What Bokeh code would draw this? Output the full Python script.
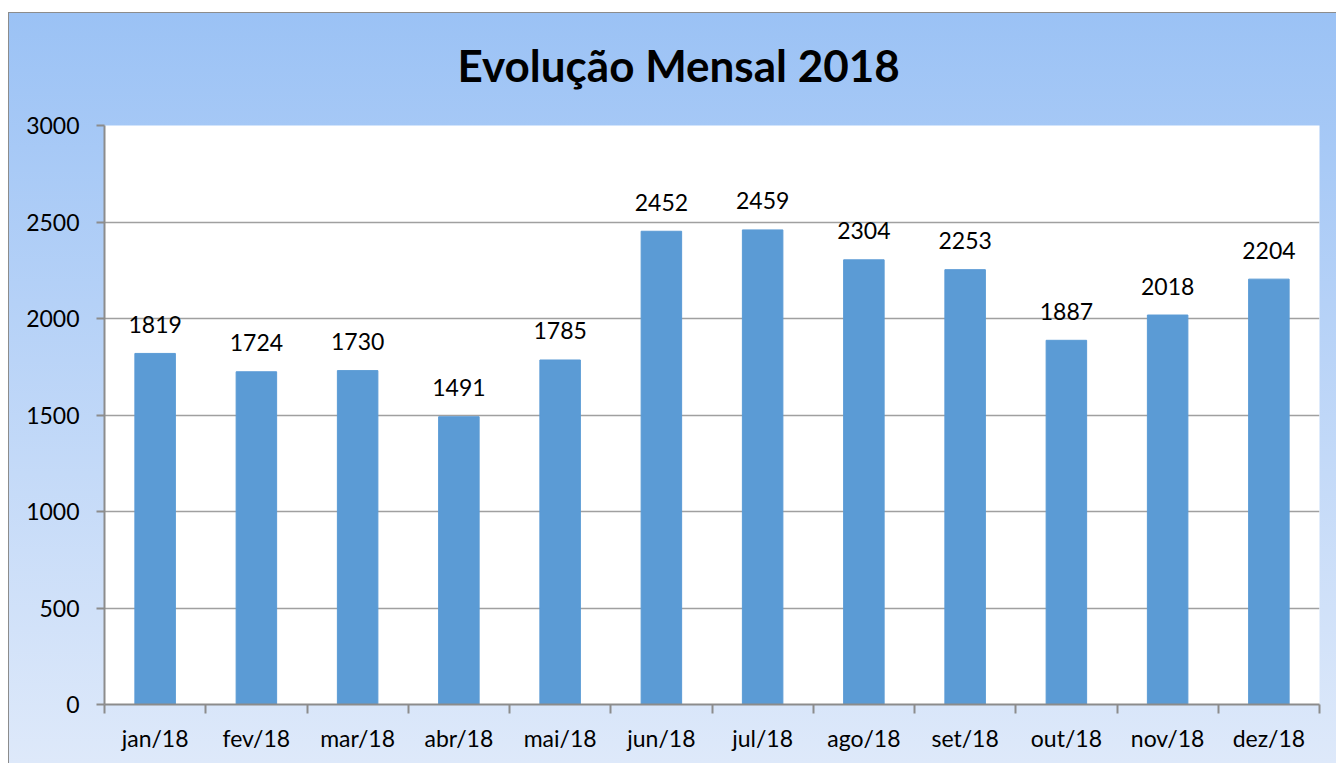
from bokeh.plotting import figure
from bokeh.models import FixedTicker, ColumnDataSource
from bokeh.embed import file_html
from bokeh.resources import INLINE
from bokeh.core.properties import value

months = ["jan/18", "fev/18", "mar/18", "abr/18", "mai/18", "jun/18",
          "jul/18", "ago/18", "set/18", "out/18", "nov/18", "dez/18"]
values = [1819, 1724, 1730, 1491, 1785, 2452, 2459, 2304, 2253, 1887, 2018, 2204]
y_ticks = [0, 500, 1000, 1500, 2000, 2500, 3000]

FONT = "Lato"
n = len(months)
centers = [i + 0.5 for i in range(n)]
src = ColumnDataSource(dict(x=centers, top=values, label=[str(v) for v in values]))

bg = ("linear-gradient(to right, #ffffff 8px, transparent 8px), "
      "linear-gradient(to bottom, #ffffff 12px, transparent 12px), "
      "linear-gradient(to right, transparent 8px, #8c8c8c 8px, #8c8c8c 9.5px, transparent 9.5px), "
      "linear-gradient(to bottom, transparent 12px, #8c8c8c 12px, #8c8c8c 13.5px, "
      "#9bc2f5 13.5px, #dee9fa 100%)")

p = figure(width=1336, height=763, x_range=(0, n), y_range=(0, 3000),
           output_backend="svg", toolbar_location=None,
           min_border_left=104, min_border_right=17, min_border_top=125, min_border_bottom=59,
           styles={"background": bg})
p.border_fill_color = None
p.background_fill_color = "white"
p.outline_line_color = None

p.title.text = "Evolução Mensal 2018"
p.title.text_font = FONT
p.title.text_font_size = "44px"
p.title.text_font_style = "bold"
p.title.text_color = "black"
p.title.align = "left"
p.title.offset = 353
p.title.standoff = 70

p.vbar(x="x", top="top", width=0.4, bottom=0, source=src,
       fill_color="#5b9bd5", line_color="#5b9bd5", line_width=1)
p.text(x="x", y="top", text="label", source=src, text_align="center",
       text_baseline="alphabetic", y_offset=-29, text_font=value(FONT),
       text_font_size="23px", text_color="black")

# y axis
p.yaxis.ticker = FixedTicker(ticks=y_ticks)
p.yaxis.axis_line_color = "#8c8c8c"
p.yaxis.axis_line_width = 2
p.yaxis.major_tick_line_color = "#8c8c8c"
p.yaxis.major_tick_line_width = 2
p.yaxis.major_tick_out = 8
p.yaxis.major_tick_in = 0
p.yaxis.minor_tick_line_color = None
p.yaxis.major_label_standoff = 17
p.yaxis.major_label_text_font = FONT
p.yaxis.major_label_text_font_size = "23px"
p.yaxis.major_label_text_color = "black"

# x axis
p.xaxis.ticker = FixedTicker(ticks=centers, minor_ticks=list(range(n + 1)))
p.xaxis.major_label_overrides = {c: m for c, m in zip(centers, months)}
p.xaxis.axis_line_color = "#8c8c8c"
p.xaxis.axis_line_width = 2
p.xaxis.major_tick_line_color = None
p.xaxis.major_tick_out = 9
p.xaxis.major_tick_in = 0
p.xaxis.minor_tick_line_color = "#8c8c8c"
p.xaxis.minor_tick_line_width = 2
p.xaxis.minor_tick_out = 9
p.xaxis.minor_tick_in = 0
p.xaxis.major_label_standoff = 10
p.xaxis.major_label_text_font = FONT
p.xaxis.major_label_text_font_size = "23px"
p.xaxis.major_label_text_color = "black"

p.xgrid.grid_line_color = None
p.ygrid.grid_line_color = "#a0a0a0"
p.ygrid.grid_line_width = 1.5

open("out.html", "w").write(file_html(p, INLINE))
